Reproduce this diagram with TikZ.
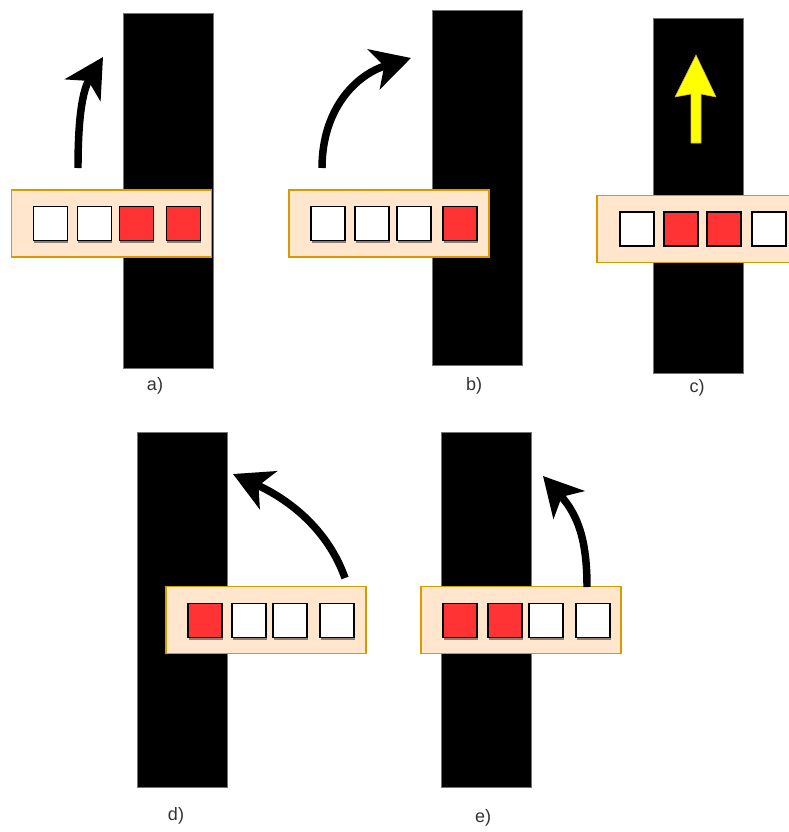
\documentclass[tikz,border=0pt]{standalone}
\usepackage{fontspec}
\setmainfont{Liberation Sans}
\usetikzlibrary{arrows.meta,shadows}
\definecolor{peach}{HTML}{FFE6CC}
\definecolor{amber}{HTML}{D79B00}
\definecolor{cellred}{HTML}{FF3333}
\definecolor{labelgray}{HTML}{333333}
\definecolor{sunyellow}{HTML}{FFFF00}
\definecolor{sunedge}{HTML}{D6B656}

\begin{document}
\begin{tikzpicture}[x=0.75pt,y=-0.75pt,
  bar/.style={fill=black,draw=black!55,line width=0.5pt,inner sep=0pt,
    minimum width=67.5pt,minimum height=266.25pt},
  tray/.style={fill=peach,draw=amber,line width=1.1pt,inner sep=0pt,
    minimum width=150pt,minimum height=50pt},
  cellflat/.style={draw=black,line width=0.9pt,fill=white,inner sep=0pt,
    minimum width=25.5pt,minimum height=25.5pt},
  cell/.style={cellflat,drop shadow={shadow xshift=0.6pt,shadow yshift=-1.5pt,
    opacity=0.45,fill=black}},
  hot/.style={cell,fill=cellred},
  hotflat/.style={cellflat,fill=cellred},
  turn/.style={line width=5.6pt,-{Stealth[length=29pt,width=31pt,inset=8pt]}},
  caption/.style={text=labelgray,font=\fontsize{13.5}{16}\selectfont,inner sep=0pt}
]
\useasboundingbox (0,0) rectangle (789,832);
\clip (0,0) rectangle (789,832);

% ---------- a) ----------
\node[bar]  (ba) at (168,190.5) {};
\node[tray] (ta) at (111.5,223.5) {};
\node[cell] (a1) at (50.5,223.5) {};
\node[cell] (a2) at (94.5,223.5) {};
\node[hot]  (a3) at (136.5,223.5) {};
\node[hot]  (a4) at (183.5,223.5) {};
\coordinate (as) at (78,168);
\coordinate (ae) at (103,57);
\draw[turn] (as) .. controls (78,110) and (84,88) .. (ae);
\node[caption] (la) at (155,386) {a)};

% ---------- b) ----------
\node[bar]  (bb) at (477,187.5) {};
\node[tray] (tb) at (389,223.5) {};
\node[cell] (b1) at (328,223.5) {};
\node[cell] (b2) at (372,223.5) {};
\node[cell] (b3) at (414,223.5) {};
\node[hot]  (b4) at (460,223.5) {};
\coordinate (bs) at (322,168);
\coordinate (be) at (411,58);
\draw[turn] (bs) .. controls (322,110) and (355,75) .. (be);
\node[caption] (lb) at (474,386) {b)};

% ---------- c) ----------
\node[bar]  (bc) at (698,195.5) {};
\node[tray] (tc) at (697,229) {};
\node[cellflat] (c1) at (637,229) {};
\node[hotflat]  (c2) at (681,229) {};
\node[hotflat]  (c3) at (724,229) {};
\node[cellflat] (c4) at (769,229) {};
\draw[fill=sunyellow,draw=sunedge,line width=0.4pt]
  (691,143) -- (691,94) -- (675,97) -- (696,55) -- (716,97) -- (701,94)
  -- (701,143) -- cycle;
\node[caption] (lc) at (697,388) {c)};

% ---------- d) ----------
\node[bar]  (bd) at (182.5,609.5) {};
\node[tray] (td) at (266,620) {};
\node[hot]  (d1) at (205,620.5) {};
\node[cell] (d2) at (249,620.5) {};
\node[cell] (d3) at (290,620.5) {};
\node[cell] (d4) at (337,620.5) {};
\coordinate (ds) at (345,578);
\coordinate (de) at (233,474);
\draw[turn] (ds) .. controls (328,530) and (290,500) .. (de);
\node[caption] (ld) at (176,816) {d)};

% ---------- e) ----------
\node[bar]  (be2) at (486,609.5) {};
\node[tray] (te) at (521,620) {};
\node[hot]  (e1) at (460,620.5) {};
\node[hot]  (e2) at (505,620.5) {};
\node[cell] (e3) at (546,620.5) {};
\node[cell] (e4) at (593,620.5) {};
\coordinate (es) at (587,587);
\coordinate (ee) at (543,476);
\draw[turn] (es) .. controls (587,540) and (578,515) .. (ee);
\node[caption] (le) at (483,818) {e)};
\end{tikzpicture}
\end{document}
